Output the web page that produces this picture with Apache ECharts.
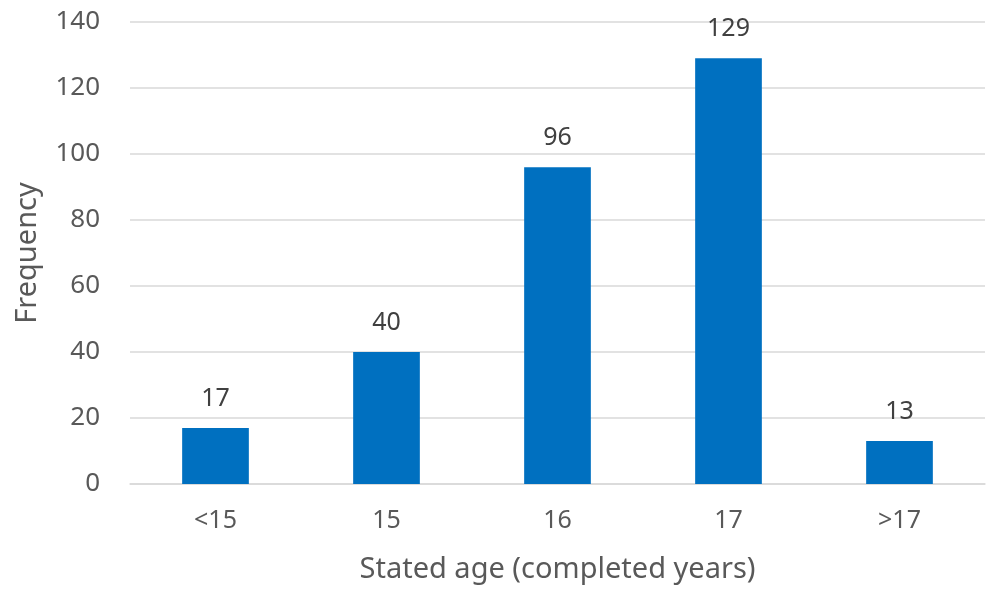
<!DOCTYPE html>
<html>
<head>
<meta charset="utf-8">
<script src="https://cdn.jsdelivr.net/npm/echarts@6/dist/echarts.min.js"></script>
<style>
  html, body { margin: 0; padding: 0; background: #ffffff; }
  #chart { width: 987px; height: 589px; }
</style>
</head>
<body>
<div id="chart"></div>
<script>
// Age groups and how many respondents stated each one
const categories = ['<15', '15', '16', '17', '>17'];
const frequencies = [17, 40, 96, 129, 13];
const yTicks = [0, 20, 40, 60, 80, 100, 120, 140];

const textColor = '#595959';
const fontFamily = '"Noto Sans", "Liberation Sans", sans-serif';

const chart = echarts.init(document.getElementById('chart'), null, { renderer: 'canvas' });

chart.setOption({
  animation: false,
  textStyle: { fontFamily: fontFamily },
  grid: { left: 130, right: 2, top: 22, bottom: 103 },
  xAxis: {
    type: 'category',
    data: categories,
    name: 'Stated age (completed years)',
    nameLocation: 'middle',
    nameGap: 71,
    nameTextStyle: { color: textColor, fontSize: 29, fontFamily: fontFamily },
    axisLine: { show: true, lineStyle: { color: '#d9d9d9', width: 1.5 } },
    axisTick: { show: false },
    axisLabel: { color: textColor, fontSize: 25, margin: 24, fontFamily: fontFamily }
  },
  yAxis: {
    type: 'value',
    min: yTicks[0],
    max: yTicks[yTicks.length - 1],
    interval: 20,
    name: 'Frequency',
    nameLocation: 'middle',
    nameGap: 88,
    nameTextStyle: { color: textColor, fontSize: 29, fontFamily: fontFamily },
    axisLine: { show: false },
    axisTick: { show: false },
    axisLabel: { color: textColor, fontSize: 26, margin: 30, fontFamily: fontFamily },
    splitLine: { lineStyle: { color: '#d9d9d9', width: 1.5 } }
  },
  series: [{
    type: 'bar',
    data: frequencies,
    barWidth: '39%',
    itemStyle: { color: '#0070c0' },
    label: {
      show: true,
      position: 'top',
      distance: 17,
      color: '#404040',
      fontSize: 25,
      fontFamily: fontFamily
    }
  }]
});
</script>
</body>
</html>
